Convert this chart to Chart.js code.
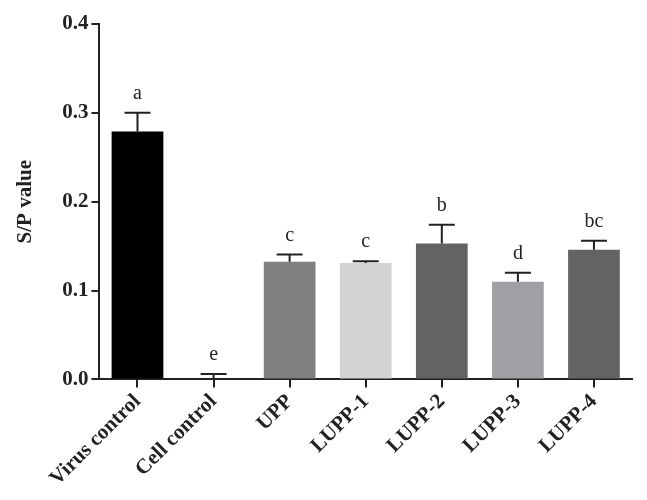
<!DOCTYPE html>
<html>
<head>
<meta charset="utf-8">
<script src="https://cdn.jsdelivr.net/npm/chart.js@4"></script>
<style>
  body { margin: 0; background: #fff; }
  #wrap { width: 647px; height: 500px; }
</style>
</head>
<body>
<div id="wrap"><canvas id="grafico"></canvas></div>
<script>
const grupos = ['Virus control', 'Cell control', 'UPP', 'LUPP-1', 'LUPP-2', 'LUPP-3', 'LUPP-4'];
const valores = [0.279, 0.001, 0.1325, 0.131, 0.153, 0.110, 0.146];
const erros = [0.021, 0.005, 0.008, 0.002, 0.021, 0.010, 0.010];
const letras = ['a', 'e', 'c', 'c', 'b', 'd', 'bc'];
const cores = ['#000000', '#000000', '#808080', '#d3d3d3', '#636363', '#a0a0a4', '#636363'];
const ticksY = [0, 0.1, 0.2, 0.3, 0.4];

const serif = '"Liberation Serif", "DejaVu Serif", serif';

// desenha barras de erro e letras acima delas
const pluginErros = {
  id: 'erros',
  afterDatasetsDraw(chart) {
    const ctx = chart.ctx;
    const y = chart.scales.y;
    const meta = chart.getDatasetMeta(0);
    ctx.save();
    ctx.strokeStyle = '#222';
    ctx.lineWidth = 2;
    ctx.fillStyle = '#222';
    ctx.font = '20px ' + serif;
    ctx.textAlign = 'center';
    ctx.textBaseline = 'alphabetic';
    meta.data.forEach((barra, i) => {
      const yBase = y.getPixelForValue(valores[i]);
      const yTopo = y.getPixelForValue(valores[i] + erros[i]);
      ctx.beginPath();
      ctx.moveTo(barra.x, yBase);
      ctx.lineTo(barra.x, yTopo);
      ctx.moveTo(barra.x - 13, yTopo);
      ctx.lineTo(barra.x + 13, yTopo);
      ctx.stroke();
      ctx.fillText(letras[i], barra.x, yTopo - 14);
    });
    ctx.restore();
  }
};

new Chart(document.getElementById('grafico').getContext('2d'), {
  type: 'bar',
  data: {
    labels: grupos,
    datasets: [{
      data: valores,
      backgroundColor: cores,
      categoryPercentage: 1,
      barPercentage: 0.68
    }]
  },
  options: {
    responsive: true,
    maintainAspectRatio: false,
    animation: false,
    layout: { padding: { top: 24, right: 15, left: 9, bottom: 7 } },
    plugins: { legend: { display: false }, tooltip: { enabled: false } },
    scales: {
      x: {
        grid: { display: true, drawOnChartArea: false, drawTicks: true, tickLength: 8, offset: false, color: '#222', lineWidth: 2 },
        border: { display: true, color: '#222', width: 2 },
        ticks: {
          color: '#222',
          padding: 2,
          maxRotation: 45,
          minRotation: 45,
          font: { family: serif, size: 21, weight: 'bold' }
        }
      },
      y: {
        min: 0,
        max: 0.4,
        afterBuildTicks: (eixo) => { eixo.ticks = ticksY.map(v => ({ value: v })); },
        grid: { display: true, drawOnChartArea: false, drawTicks: true, tickLength: 8, color: '#222', lineWidth: 2 },
        border: { display: true, color: '#222', width: 2 },
        ticks: {
          color: '#222',
          padding: 3,
          font: { family: serif, size: 21, weight: 'bold' },
          callback: (v) => Number(v).toFixed(1)
        },
        title: {
          display: true,
          text: 'S/P value',
          color: '#222',
          padding: { bottom: 21 },
          font: { family: serif, size: 21, weight: 'bold' }
        }
      }
    }
  },
  plugins: [pluginErros]
});
</script>
</body>
</html>
